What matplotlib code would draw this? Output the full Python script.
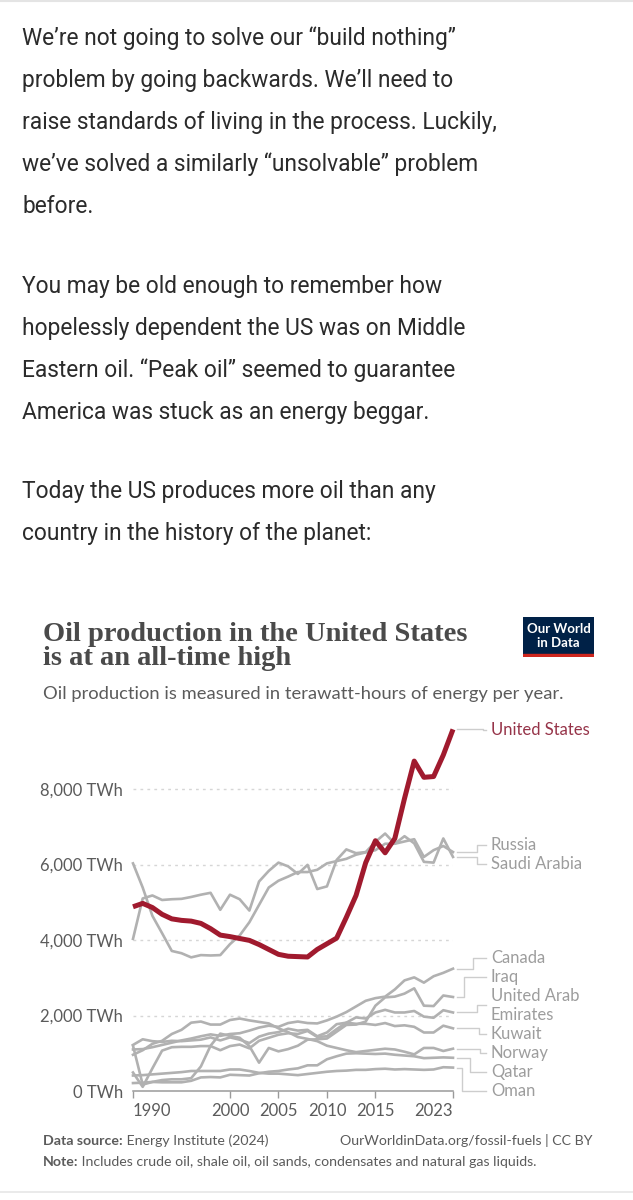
import matplotlib
matplotlib.use("Agg")
import matplotlib.pyplot as plt
from matplotlib.lines import Line2D

# --- data (TWh per year) ---
years = list(range(1990, 2024))

united_states = [4880, 4970, 4860, 4680, 4560, 4520, 4500, 4440, 4300, 4130,
                 4090, 4040, 3990, 3880, 3750, 3620, 3570, 3560, 3550, 3750,
                 3900, 4050, 4600, 5180, 6050, 6630, 6310, 6690, 7750, 8740,
                 8310, 8330, 8900, 9580]
russia = [6030, 5390, 4640, 4180, 3710, 3650, 3540, 3600, 3590, 3600,
          3890, 4120, 4470, 4930, 5390, 5570, 5680, 5800, 5800, 5860,
          6030, 6090, 6150, 6260, 6320, 6380, 6550, 6550, 6610, 6670,
          6200, 6380, 6490, 6330]
saudi_arabia = [4030, 5100, 5180, 5060, 5080, 5090, 5140, 5200, 5250, 4800,
                5200, 5080, 4780, 5550, 5830, 6050, 5950, 5750, 5990, 5350,
                5420, 6120, 6400, 6300, 6330, 6600, 6820, 6550, 6750, 6560,
                6070, 6050, 6690, 6200]
canada = [1100, 1110, 1160, 1220, 1280, 1340, 1390, 1450, 1500, 1460,
          1510, 1530, 1600, 1680, 1730, 1700, 1800, 1840, 1800, 1790,
          1870, 1970, 2090, 2240, 2390, 2460, 2500, 2690, 2930, 3010,
          2870, 3040, 3130, 3240]
iraq = [1200, 170, 240, 290, 310, 310, 340, 650, 1200, 1520,
        1460, 1410, 1190, 750, 1140, 1050, 1110, 1200, 1360, 1370,
        1390, 1570, 1750, 1760, 1840, 2260, 2480, 2500, 2580, 2720,
        2260, 2250, 2530, 2490]
uae = [1220, 1370, 1320, 1300, 1330, 1320, 1340, 1360, 1420, 1340,
       1420, 1360, 1270, 1440, 1520, 1560, 1650, 1600, 1620, 1450,
       1550, 1770, 1810, 1950, 1920, 2080, 2150, 2080, 2080, 2120,
       1970, 1940, 2140, 2080]
kuwait = [490, 110, 600, 1070, 1160, 1170, 1170, 1190, 1190, 1080,
          1190, 1230, 1130, 1330, 1410, 1490, 1530, 1510, 1590, 1430,
          1450, 1640, 1810, 1780, 1780, 1750, 1800, 1720, 1740, 1700,
          1550, 1550, 1730, 1660]
norway = [960, 1080, 1250, 1330, 1510, 1620, 1810, 1840, 1760, 1760,
          1880, 1920, 1870, 1830, 1790, 1660, 1560, 1430, 1380, 1320,
          1200, 1140, 1080, 1030, 1060, 1090, 1120, 1100, 1040, 970,
          1140, 1140, 1060, 1120]
qatar = [210, 220, 240, 230, 230, 230, 270, 360, 370, 360,
         430, 420, 410, 470, 510, 530, 570, 600, 680, 680,
         840, 920, 990, 1000, 990, 980, 990, 960, 940, 920,
         870, 880, 890, 880]
oman = [410, 420, 440, 460, 480, 500, 530, 530, 530, 530,
        570, 570, 530, 480, 460, 460, 440, 420, 450, 480,
        510, 530, 540, 560, 560, 580, 590, 570, 580, 570,
        560, 570, 630, 620]

gray_series = [
    (["Russia"], russia),
    (["Saudi Arabia"], saudi_arabia),
    (["Canada"], canada),
    (["Iraq"], iraq),
    (["United Arab", "Emirates"], uae),
    (["Kuwait"], kuwait),
    (["Norway"], norway),
    (["Qatar"], qatar),
    (["Oman"], oman),
]

y_ticks = [0, 2000, 4000, 6000, 8000]
x_ticks = [1990, 2000, 2005, 2010, 2015, 2023]

article = [
    ["We\u2019re not going to solve our \u201cbuild nothing\u201d",
     "problem by going backwards. We\u2019ll need to",
     "raise standards of living in the process. Luckily,",
     "we\u2019ve solved a similarly \u201cunsolvable\u201d problem",
     "before."],
    ["You may be old enough to remember how",
     "hopelessly dependent the US was on Middle",
     "Eastern oil. \u201cPeak oil\u201d seemed to guarantee",
     "America was stuck as an energy beggar."],
    ["Today the US produces more oil than any",
     "country in the history of the planet:"],
]

# --- layout (pixels from top-left) ---
W, H = 633, 1200
AX_LEFT, AX_RIGHT = 133, 453
AX_BOTTOM = 1091
Y_MAX = 10000
PX_PER_TWH = 75.5 / 2000
AX_TOP = AX_BOTTOM - Y_MAX * PX_PER_TWH

US_RED = "#a01a2e"
GRAY_LINE = "#b1b1b1"
GRAY_LABEL = "#9d9d9d"
TEXT = "#5b5b5b"
LABEL_STEP = 19


def fx(x):
    return x / W


def fy(y):
    return 1 - y / H


def spread(desired, heights):
    """Push label blocks apart so they do not overlap (OWID style)."""
    order = sorted(range(len(desired)), key=lambda i: desired[i])
    blocks = [[i] for i in order]
    while True:
        tops = []
        for b in blocks:
            tot = sum(heights[i] for i in b)
            centre = sum(desired[i] * heights[i] for i in b) / tot
            tops.append(centre - tot / 2)
        merged = False
        for k in range(len(blocks) - 1):
            tot = sum(heights[i] for i in blocks[k])
            if tops[k] + tot > tops[k + 1]:
                blocks[k] = blocks[k] + blocks[k + 1]
                del blocks[k + 1]
                merged = True
                break
        if not merged:
            break
    centres = {}
    for b, top in zip(blocks, tops):
        y = top
        for i in b:
            centres[i] = y + heights[i] / 2
            y += heights[i]
    return [centres[i] for i in range(len(desired))]


plt.rcParams['font.family'] = ['Lato', 'DejaVu Sans']
fig = plt.figure(figsize=(W / 100, H / 100), dpi=100)
fig.patch.set_facecolor("white")

# thin separators of the screenshot
fig.add_artist(Line2D([0, 1], [fy(1), fy(1)], color="#e4e4e4", lw=1.5))
fig.add_artist(Line2D([0, 1], [fy(1192), fy(1192)], color="#e6e6e6", lw=1.2))

# --- article text ---
baselines = [[45, 87, 129, 171, 213], [293, 335, 377, 419], [498, 540]]
for para, bls in zip(article, baselines):
    for line, b in zip(para, bls):
        fig.text(fx(22), fy(b), line, fontsize=16.4, family=["Roboto", "DejaVu Sans"],
                 color="#2b2b2b", va="baseline", ha="left")

# --- chart header ---
fig.text(fx(43), fy(641), "Oil production in the United States", fontsize=20.5,
         family=["Liberation Serif"], weight="bold", color="#4a4a4a", va="baseline")
fig.text(fx(43), fy(665), "is at an all-time high", fontsize=20.5,
         family=["Liberation Serif"], weight="bold", color="#4a4a4a", va="baseline")
fig.text(fx(43), fy(699), "Oil production is measured in terawatt-hours of energy per year.",
         fontsize=13.2, color=TEXT, va="baseline")

# OWID logo
logo = fig.add_axes([fx(523), fy(657), (594 - 523) / W, (657 - 617) / H])
logo.set_xlim(0, 1)
logo.set_ylim(0, 1)
logo.axis("off")
logo.add_patch(plt.Rectangle((0, 0), 1, 1, color="#002147"))
logo.add_patch(plt.Rectangle((0, 0), 1, 0.07, color="#ce261e"))
logo.text(0.5, 0.69, "Our World", color="white", fontsize=9.5, weight="bold",
          ha="center", va="center")
logo.text(0.5, 0.36, "in Data", color="white", fontsize=9.5, weight="bold",
          ha="center", va="center")

# --- chart ---
ax = fig.add_axes([fx(AX_LEFT), fy(AX_BOTTOM), (AX_RIGHT - AX_LEFT) / W,
                   (AX_BOTTOM - AX_TOP) / H])
ax.set_facecolor("none")
ax.set_xlim(years[0], years[-1])
ax.set_ylim(0, Y_MAX)

for names, vals in gray_series:
    ax.plot(years, vals, color=GRAY_LINE, lw=1.9, solid_joinstyle="round",
            clip_on=False, zorder=2)
ax.plot(years, united_states, color=US_RED, lw=3.6, solid_joinstyle="round",
        solid_capstyle="butt", clip_on=False, zorder=3)

ax.set_yticks(y_ticks)
ax.set_yticklabels([f"{v:,} TWh" for v in y_ticks])
ax.set_xticks(x_ticks)
ax.set_xticklabels([str(y) for y in x_ticks])
xl = ax.get_xticklabels()
xl[0].set_ha("left")
xl[-1].set_ha("right")
ax.tick_params(axis="y", length=0, pad=7, labelsize=12, labelcolor=TEXT)
ax.tick_params(axis="x", length=5, width=1, color="#9a9a9a", pad=4,
               labelsize=12, labelcolor=TEXT)
for s in ["top", "right", "left"]:
    ax.spines[s].set_visible(False)
ax.spines["bottom"].set_color("#9a9a9a")
ax.spines["bottom"].set_linewidth(1.1)
ax.grid(axis="y", color="#d6d6d6", lw=1, linestyle=(0, (2, 3)))
ax.set_axisbelow(True)
for gl in ax.get_ygridlines()[:1]:
    gl.set_visible(False)

# --- end labels with connectors ---
def data_to_px(x, y):
    dx, dy = ax.transData.transform((x, y))
    return dx, H - dy


label_x = 491
ends = [data_to_px(years[-1], vals[-1])[1] for _, vals in gray_series]
heights = [LABEL_STEP * len(names) for names, _ in gray_series]
upper = [0, 1]
lower = list(range(2, len(gray_series)))
placed = {}
for group in (upper, lower):
    ys = spread([ends[i] for i in group], [heights[i] for i in group])
    for i, y in zip(group, ys):
        placed[i] = y


def connector(y0, y1, colour):
    disp = abs(y1 - y0)
    xv = max(462, 484 - disp)
    xs = [AX_RIGHT + 4, xv, xv, label_x - 5]
    ys = [y0, y0, y1, y1]
    fig.add_artist(Line2D([fx(v) for v in xs], [fy(v) for v in ys],
                          color=colour, lw=1))


for i, (names, vals) in enumerate(gray_series):
    y0, y1 = ends[i], placed[i]
    connector(y0, y1, "#cdcdcd")
    top = y1 - heights[i] / 2
    for k, name in enumerate(names):
        fig.text(fx(label_x), fy(top + LABEL_STEP * (k + 0.5)), name, fontsize=12,
                 color=GRAY_LABEL, va="center", ha="left")

us_end = data_to_px(years[-1], united_states[-1])[1]
connector(us_end, us_end + 1, "#cdcdcd")
fig.text(fx(label_x), fy(us_end + 1), "United States", fontsize=12,
         color="#963449", va="center", ha="left")

# --- footer ---
renderer = fig.canvas.get_renderer()


def bold_prefix(x, y, bold, rest, **kw):
    t = fig.text(fx(x), fy(y), bold, weight="bold", va="baseline", **kw)
    bb = t.get_window_extent(renderer)
    fig.text(bb.x1 / W, fy(y), rest, va="baseline", **kw)


bold_prefix(43, 1145, "Data source:", " Energy Institute (2024)",
            fontsize=10.2, color=TEXT)
fig.text(fx(592), fy(1145), "OurWorldinData.org/fossil-fuels | CC BY",
         fontsize=10.2, color=TEXT, va="baseline", ha="right")
bold_prefix(43, 1166, "Note:",
            " Includes crude oil, shale oil, oil sands, condensates and natural gas liquids.",
            fontsize=10.2, color=TEXT)

fig.savefig("out.png", dpi=100, facecolor="white")
